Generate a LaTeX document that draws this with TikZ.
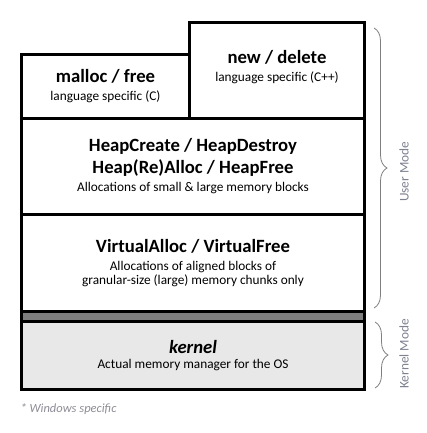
\documentclass[tikz,border=0pt]{standalone}
\usepackage{fontspec}
\setmainfont{Carlito}
\usetikzlibrary{positioning,decorations.pathreplacing}

\definecolor{barGray}{HTML}{7F7F7F}
\definecolor{kernelFill}{HTML}{E8E8E8}
\definecolor{modeText}{HTML}{7D8190}
\definecolor{noteText}{HTML}{8C8C96}

\newcommand{\hd}[1]{{\fontsize{18.7}{21}\selectfont\bfseries #1}}

\tikzset{
  layer/.style={draw, line width=3pt, inner sep=0pt, outer sep=0pt, align=center,
    font=\fontsize{13.3}{14}\selectfont},
  modebrace/.style={draw=barGray, line width=0.8pt, decorate,
    decoration={brace, amplitude=13pt}},
  modelabel/.style={text=modeText, rotate=90, font=\fontsize{13.3}{15}\selectfont}
}

\begin{document}
\begin{tikzpicture}[x=1pt, y=-1pt]
\useasboundingbox (0,0) rectangle (427,433);

\node [layer, minimum width=343, minimum height=96, anchor=north] (heap) at (193,118)
  {\hd{HeapCreate / HeapDestroy}\\[4pt]\hd{Heap(Re)Alloc / HeapFree}\\[4pt]Allocations of small \& large memory blocks};
\node [layer, minimum width=343, minimum height=97.5] (virt) [below=0pt of heap]
  {\hd{VirtualAlloc / VirtualFree}\\[4pt]Allocations of aligned blocks of\\granular-size (large) memory chunks only};
\node [layer, fill=barGray, minimum width=343, minimum height=10] (bar) [below=0pt of virt] {};
\node [layer, fill=kernelFill, minimum width=343, minimum height=68] (kernel) [below=0pt of bar]
  {\hd{\itshape kernel}\\[1pt]Actual memory manager for the OS};

\node [layer, minimum width=168, minimum height=63.5, anchor=south west] (malloc) at (heap.north west)
  {\hd{malloc / free}\\[4pt]language specific (C)};
\node [layer, minimum width=175, minimum height=95, anchor=south east] (new) at (heap.north east)
  {\hd{new / delete}\\[4pt]language specific (C++)\\[-4pt]};

% modes
\coordinate (user_top) at (374,28);
\coordinate (user_bot) at (374,308);
\coordinate (kern_top) at (375,322);
\coordinate (kern_bot) at (375,388);
\draw [modebrace] (user_top) -- (user_bot);
\draw [modebrace] (kern_top) -- (kern_bot);
\node [modelabel] (user) at (404,172) {User Mode};
\node [modelabel] (kmode) at (404,354) {Kernel Mode};

\node [text=noteText, font=\fontsize{12.5}{14}\selectfont\itshape, anchor=west] (note) at (17,409) {* Windows specific};
\end{tikzpicture}
\end{document}
